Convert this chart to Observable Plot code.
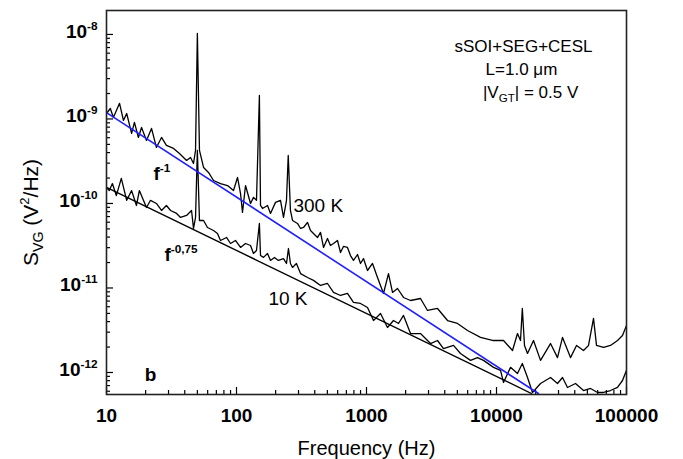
<!DOCTYPE html>
<html><head><meta charset="utf-8">
<script src="https://cdn.jsdelivr.net/npm/d3@7"></script>
<script src="https://cdn.jsdelivr.net/npm/@observablehq/plot@0.6"></script>
<style>body{margin:0;background:#fff}#chart svg{display:block}</style>
</head><body><div id="chart"></div>
<script>
// Measured spectra: [frequency (Hz), S_VG (V^2/Hz)]
const noise300K = [[10,1.16e-9],[10.7,1.33e-9],[11.3,1.04e-9],[12.6,1.53e-9],[13.5,9.60e-10],[14.3,1.16e-9],[15.6,6.74e-10],[16.4,9.09e-10],[17.6,6.04e-10],[18.6,7.93e-10],[20.3,5.57e-10],[22.2,7.72e-10],[24.2,4.60e-10],[26.5,6.04e-10],[28.9,4.86e-10],[32.8,4.48e-10],[36.4,3.91e-10],[41.3,3.23e-10],[44.3,3.50e-10],[46.7,2.97e-10],[48.4,4.24e-10],[50,1.03e-8],[51.9,4.24e-10],[55.8,2.67e-10],[60.9,2.33e-10],[66.6,1.87e-10],[75.3,1.72e-10],[85.3,1.63e-10],[94.8,1.42e-10],[101.8,2.03e-10],[107.4,1.31e-10],[111.2,7.83e-11],[117.3,1.63e-10],[128.2,1.00e-10],[135.1,1.18e-10],[142.5,1.09e-10],[150,1.90e-9],[153,9.47e-11],[158.5,8.73e-11],[173.2,9.47e-11],[182.6,7.62e-11],[199.5,1.03e-10],[218,1.09e-10],[229.9,6.83e-11],[242.4,1.09e-10],[250,3.70e-10],[260,8.26e-11],[269.7,6.29e-11],[294.6,5.80e-11],[311,5.06e-11],[327.7,5.20e-11],[352,5.96e-11],[370.9,4.79e-11],[391,4.42e-11],[420,3.96e-11],[443,4.54e-11],[467,3.02e-11],[501,3.85e-11],[528,3.18e-11],[557.5,3.36e-11],[598,3.65e-11],[631,2.63e-11],[665,3.10e-11],[714,3.02e-11],[753,2.42e-11],[794,2.12e-11],[853,2.49e-11],[899,1.95e-11],[948,2.23e-11],[1018,1.61e-11],[1112,1.95e-11],[1215,1.33e-11],[1351,8.61e-12],[1476,1.48e-11],[1585,8.85e-12],[1732,9.86e-12],[1926,7.72e-12],[2181,7.11e-12],[2603,7.51e-12],[2946,5.42e-12],[3517,5.72e-12],[4200,4.12e-12],[5012,3.80e-12],[5983,3.14e-12],[7534,2.60e-12],[9483,2.39e-12],[11320,2.39e-12],[13280,1.82e-12],[14500,2.89e-12],[15300,2.39e-12],[15800,5.72e-12],[16420,2.09e-12],[17320,1.68e-12],[19260,2.39e-12],[21810,1.39e-12],[26030,2.20e-12],[29460,1.50e-12],[32200,2.60e-12],[37090,1.50e-12],[41260,2.09e-12],[46700,1.82e-12],[51030,2.09e-12],[55750,4.36e-12],[58780,2.09e-12],[66550,1.98e-12],[75330,2.09e-12],[85280,2.39e-12],[93160,2.74e-12],[100000,3.60e-12]];
const noise10K = [[10,1.55e-10],[10.5,1.42e-10],[11.1,1.72e-10],[11.9,1.24e-10],[13.0,1.98e-10],[14.3,1.09e-10],[15.6,1.42e-10],[17.0,9.47e-11],[17.9,1.42e-10],[20.3,8.97e-11],[21.8,1.09e-10],[24.2,1.00e-10],[26.5,8.26e-11],[28.9,9.47e-11],[31.1,8.26e-11],[34.6,7.62e-11],[37.1,6.83e-11],[41.3,7.21e-11],[45.1,8.26e-11],[46.7,5.06e-11],[48.4,6.83e-11],[50,4.24e-10],[51.9,6.29e-11],[55.8,6.29e-11],[59.8,5.20e-11],[66.6,4.79e-11],[71.4,4.42e-11],[75.3,3.65e-11],[83.8,3.96e-11],[89.9,3.36e-11],[98.2,3.65e-11],[107.4,3.02e-11],[117.3,3.36e-11],[128.2,3.18e-11],[135.1,2.56e-11],[142.5,2.78e-11],[150,5.80e-11],[153,2.42e-11],[161.3,2.30e-11],[173.2,2.56e-11],[182.6,2.12e-11],[196,2.30e-11],[210,2.12e-11],[229.9,2.23e-11],[242.4,1.95e-11],[251,2.93e-11],[260,1.95e-11],[269.7,1.75e-11],[289,1.95e-11],[311,1.48e-11],[352,1.33e-11],[391,1.23e-11],[443,1.07e-11],[501,1.13e-11],[557.5,8.85e-12],[631,8.15e-12],[714,8.61e-12],[794,6.74e-12],[899,6.56e-12],[1018,5.88e-12],[1132,4.12e-12],[1282,4.99e-12],[1450,3.41e-12],[1613,4.12e-12],[1763,3.80e-12],[1926,4.73e-12],[2181,2.89e-12],[2603,2.89e-12],[3107,2.20e-12],[3517,2.39e-12],[3911,1.92e-12],[4669,2.09e-12],[5286,1.68e-12],[6310,1.39e-12],[7141,1.50e-12],[7943,1.39e-12],[9483,1.15e-12],[10740,1.06e-12],[11320,7.62e-13],[12820,1.15e-12],[14500,9.73e-13],[15800,1.28e-12],[17320,8.73e-13],[18920,5.80e-13],[21810,7.41e-13],[26030,8.73e-13],[29460,7.41e-13],[32200,8.73e-13],[35170,6.65e-13],[40530,7.41e-13],[46700,6.12e-13],[52860,6.47e-13],[59830,5.80e-13],[66550,5.80e-13],[75330,6.12e-13],[85280,6.65e-13],[93160,8.04e-13],[100000,1.06e-12]];
// Fit lines (end points): f^-1 (blue) and f^-0.75 (black)
const fitInvF = [[10,1.19e-9],[21000,5.64e-13]];
const fitF075 = [[10,1.55e-10],[18600,5.64e-13]];
// Axes
const xDomain = [10, 100000];
const yDomain = [5.49e-13, 1.92e-8];
const xTicks = [10, 100, 1000, 10000, 100000];
const yTicks = [1e-8, 1e-9, 1e-10, 1e-11, 1e-12];
const xTitle = "Frequency (Hz)";
const yTitle = "S_{VG} (V^{2}/Hz)";
// Text annotations anchored in data space
const infoLines = [
  {text: "sSOI+SEG+CESL", f: 16130, s: 7.21e-9},
  {text: "L=1.0 \u03bcm", f: 15560, s: 3.85e-9},
  {text: "|V_{GT}| = 0.5 V", f: 18290, s: 2.06e-9}
];
const curveLabels = [
  {text: "300 K", f: 274, s: 9.46e-11},
  {text: "10 K", f: 176, s: 7.52e-12}
];
const fitLabels = [
  {text: "f^{-1}", f: 23.0, s: 2.26e-10},
  {text: "f^{-0,75}", f: 27.9, s: 2.49e-11}
];
const panelLabel = [{text: "b", f: 21.8, s: 9.46e-13}];

const isMajor = (v, majors) => majors.some(m => Math.abs(Math.log10(v) - Math.log10(m)) < 1e-6);
const xMinor = d3.scaleLog().domain(xDomain).ticks().filter(v => !isMajor(v, xTicks));
const yMinor = d3.scaleLog().domain(yDomain).ticks().filter(v => !isMajor(v, yTicks));

const chart = Plot.plot({
  width: 683, height: 459,
  marginLeft: 106, marginRight: 57, marginTop: 10, marginBottom: 65,
  style: {fontFamily: "'Liberation Sans', Arial, sans-serif", color: "black", background: "white"},
  x: {type: "log", domain: xDomain, label: null},
  y: {type: "log", domain: yDomain, label: null},
  marks: [
    Plot.axisY({ticks: yMinor, tickSize: -4, fill: "none", label: null, strokeWidth: 1.2}),
    Plot.axisY({ticks: yTicks, tickSize: -7, fill: "none", label: null, strokeWidth: 1.2}),
    Plot.axisY({ticks: yTicks, tickSize: 0, tickPadding: 9, stroke: "none", label: null,
      tickFormat: d => `10^{${Math.round(Math.log10(d))}}`, fontSize: 19, fontWeight: "bold", dy: -3}),
    Plot.axisX({ticks: xMinor, tickSize: -4, fill: "none", label: null, strokeWidth: 1.2}),
    Plot.axisX({ticks: xTicks, tickSize: -7, fill: "none", label: null, strokeWidth: 1.2}),
    Plot.axisX({ticks: xTicks, tickSize: 0, tickPadding: 14, stroke: "none", label: null,
      tickFormat: d => String(d), fontSize: 19, fontWeight: "bold"}),
    Plot.line(noise300K, {x: d => d[0], y: d => d[1], stroke: "black", strokeWidth: 1.3, clip: true}),
    Plot.line(noise10K, {x: d => d[0], y: d => d[1], stroke: "black", strokeWidth: 1.3, clip: true}),
    Plot.line(fitF075, {x: d => d[0], y: d => d[1], stroke: "black", strokeWidth: 1.4, clip: true}),
    Plot.line(fitInvF, {x: d => d[0], y: d => d[1], stroke: "#1f1fff", strokeWidth: 1.6, clip: true}),
    Plot.text(infoLines, {x: "f", y: "s", text: "text", fontSize: 17, textAnchor: "middle", fill: "black"}),
    Plot.text(curveLabels, {x: "f", y: "s", text: "text", fontSize: 19, textAnchor: "start", fill: "black"}),
    Plot.text(fitLabels, {x: "f", y: "s", text: "text", fontSize: 19, fontWeight: "bold", textAnchor: "start", fill: "black"}),
    Plot.text(panelLabel, {x: "f", y: "s", text: "text", fontSize: 19, fontWeight: "bold", textAnchor: "middle", fill: "black"}),
    Plot.text([xTitle], {frameAnchor: "bottom", textAnchor: "middle", lineAnchor: "middle", dy: 54, fontSize: 20, fill: "black"}),
    Plot.text([yTitle], {frameAnchor: "left", textAnchor: "middle", lineAnchor: "middle", rotate: -90, dx: -75, dy: 10, fontSize: 21, fill: "black"}),
    Plot.frame({stroke: "#222", strokeWidth: 1.6})
  ]
});

function richify(root) {
  const NS = "http://www.w3.org/2000/svg";
  root.querySelectorAll("text").forEach(t => {
    const s = t.textContent;
    if (!/[\^_]\{/.test(s)) return;
    const parts = s.split(/([\^_]\{[^}]*\})/).filter(p => p !== "");
    while (t.firstChild) t.removeChild(t.firstChild);
    let shift = 0;
    parts.forEach(p => {
      const ts = document.createElementNS(NS, "tspan");
      let target = 0, size = 1, str = p;
      if (p.startsWith("^{")) { target = -0.42; size = 0.62; str = p.slice(2, -1); }
      else if (p.startsWith("_{")) { target = 0.25; size = 0.68; str = p.slice(2, -1); }
      const d = target - shift;
      if (d) ts.setAttribute("dy", (d / size).toFixed(3) + "em");
      if (size !== 1) ts.setAttribute("font-size", size + "em");
      ts.textContent = str;
      t.appendChild(ts);
      shift = target;
    });
  });
}
richify(chart);
document.getElementById("chart").appendChild(chart);
</script>
</body></html>
